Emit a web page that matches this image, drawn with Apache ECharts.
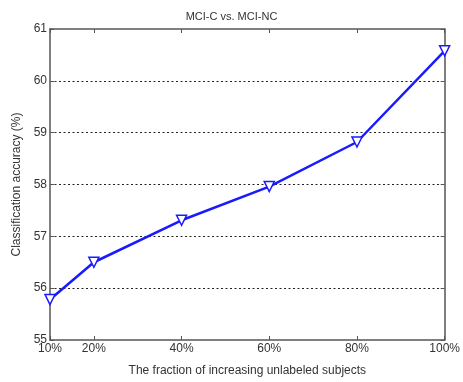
<!DOCTYPE html>
<html>
<head>
<meta charset="utf-8">
<script src="https://cdn.jsdelivr.net/npm/echarts@6/dist/echarts.min.js"></script>
<style>
  html, body { margin: 0; padding: 0; background: #fff; }
  #chart { width: 463px; height: 382px; }
</style>
</head>
<body>
<div id="chart"></div>
<script>
// fraction of unlabeled subjects (%) and accuracy (%)
const fractions = [10, 20, 40, 60, 80, 100];
const accuracy = [55.78, 56.5, 57.31, 57.96, 58.82, 60.58];
const yTicks = [55, 56, 57, 58, 59, 60, 61];

const lineBlue = '#1a1aff';
const axisGray = '#555';
const font = 'Liberation Sans, Arial, sans-serif';

const chart = echarts.init(document.getElementById('chart'));

const xCommon = {
  type: 'value', min: 10, max: 100,
  axisLine: { show: true, lineStyle: { color: axisGray, width: 1.5 } },
  axisTick: { show: true, inside: true, length: 4, customValues: fractions, lineStyle: { color: axisGray } },
  splitLine: { show: false }
};
const yCommon = {
  type: 'value', min: 55, max: 61, interval: 1,
  axisLine: { show: true, lineStyle: { color: axisGray, width: 1.5 } },
  axisTick: { show: true, inside: true, length: 4, lineStyle: { color: axisGray } }
};

chart.setOption({
  animation: false,
  title: {
    text: 'MCI-C vs. MCI-NC', left: 'center', top: 6,
    textStyle: { fontSize: 11, fontWeight: 'normal', color: '#333', fontFamily: font }
  },
  grid: { left: 50, right: 14, top: 29, bottom: 39 },
  xAxis: [
    Object.assign({}, xCommon, {
      position: 'bottom',
      name: 'The fraction of increasing unlabeled subjects',
      nameLocation: 'middle', nameGap: 25,
      nameTextStyle: { fontSize: 12, color: '#333', fontFamily: font },
      axisLabel: {
        customValues: fractions, formatter: v => v + '%',
        fontSize: 12, color: '#333', fontFamily: font, margin: 3
      }
    }),
    Object.assign({}, xCommon, { position: 'top', axisLabel: { show: false } })
  ],
  yAxis: [
    Object.assign({}, yCommon, {
      position: 'left',
      name: 'Classification accuracy (%)',
      nameLocation: 'middle', nameGap: 18,
      nameTextStyle: { fontSize: 12, color: '#333', fontFamily: font },
      axisLabel: { fontSize: 12, color: '#333', fontFamily: font, margin: 3 },
      splitLine: {
        show: true,
        showMinLine: false, showMaxLine: false,
        lineStyle: { color: '#222', type: [2, 2.5], width: 1 }
      }
    }),
    Object.assign({}, yCommon, { position: 'right', axisLabel: { show: false }, splitLine: { show: false } })
  ],
  series: [{
    type: 'line',
    data: fractions.map((f, i) => [f, accuracy[i]]),
    lineStyle: { color: lineBlue, width: 2.5 },
    symbol: 'triangle',
    symbolRotate: 180,
    symbolSize: 10,
    itemStyle: { color: '#fff', borderColor: lineBlue, borderWidth: 1.5 },
    z: 5
  }]
});
</script>
</body>
</html>
